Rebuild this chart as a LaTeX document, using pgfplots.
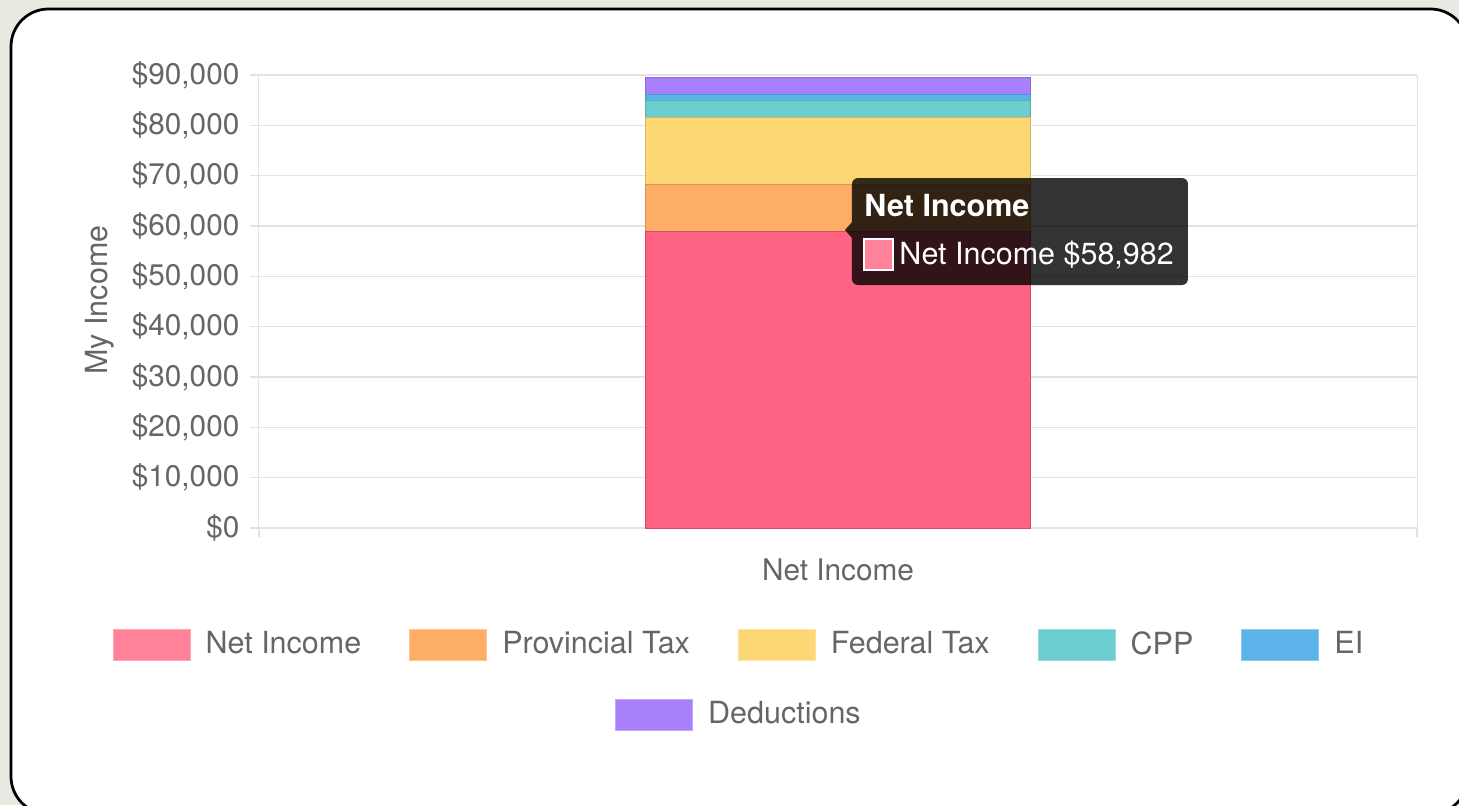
\documentclass[border=0pt]{standalone}
\usepackage{pgfplots}
\pgfplotsset{compat=1.18}
\usepackage{fontspec}
\setmainfont{TeX Gyre Heros}
\definecolor{txt}{HTML}{666666}
\definecolor{gridc}{HTML}{E3E3E3}
\definecolor{bgb}{HTML}{E9E9E1}
\definecolor{netB}{HTML}{FF6384}
\definecolor{netL}{HTML}{FF8299}
\definecolor{provB}{HTML}{FEAD64}
\definecolor{fedB}{HTML}{FED775}
\definecolor{cppB}{HTML}{6BCDCD}
\definecolor{eiB}{HTML}{5BB3EA}
\definecolor{dedB}{HTML}{A980FB}
\newcommand{\ff}{\fontsize{12.2}{14.6}\selectfont}
\begin{document}
\begin{tikzpicture}
\ff
\path[use as bounding box] (0,0) rectangle (583.6pt,-322pt);
\fill[bgb] (0,0) rectangle (583.6pt,-322pt);
\begin{scope}[x=0.4pt,y=-0.4pt]
\clip (0,0) rectangle (1459,805);
\draw[line width=1.1pt, fill=white, rounded corners=15pt] (11,9) rectangle (1468,814);
\end{scope}
\begin{axis}[
  at={(103.6pt,-211.2pt)}, anchor=south west,
  scale only axis, width=463.2pt, height=181.2pt,
  xmin=-0.5, xmax=0.5, ymin=0, ymax=90000,
  ybar stacked, bar width=154pt,
  axis line style={draw=gridc},
  ymajorgrids, grid style={draw=gridc, line width=0.5pt},
  scaled y ticks=false,
  ytick={0,10000,...,90000},
  yticklabels={{\$0},{\$10,000},{\$20,000},{\$30,000},{\$40,000},{\$50,000},{\$60,000},{\$70,000},{\$80,000},{\$90,000}},
  xtick={-0.5,0.5}, xticklabels={},
  extra x ticks={0}, extra x tick labels={Net Income},
  extra x tick style={grid=none, major tick length=0pt, xticklabel style={yshift=-8pt}},
  tick style={draw=gridc, line width=0.5pt},
  tick pos=left,
  tick align=outside, major tick length=3.6pt,
  ticklabel style={text=txt, font=\fontsize{11.9}{14.2}\selectfont},
  ylabel={My Income}, ylabel style={text=txt, at={(axis description cs:-0.1375,0.503)}, anchor=center, font=\ff},
  legend columns=5,
  legend style={draw=none, fill=none, at={(axis description cs:0.4136,-0.2583)}, anchor=center,
    nodes={inner sep=0pt, text=txt, font=\ff},
    /tikz/every odd column/.append style={column sep=6pt},
    /tikz/every even column/.append style={column sep=19.2pt}},
]
\addplot[fill=netB, draw=netB!80!black, line width=0.3pt,
  legend image code/.code={\draw[fill=netL, draw=netL!70!white, line width=0.4pt] (0pt,-6.2pt) rectangle (30.8pt,6.2pt);}]
  coordinates {(0,58982)};
\addplot[fill=provB, draw=provB!85!black, line width=0.3pt,
  legend image code/.code={\draw[fill=provB, draw=provB!70!white, line width=0.4pt] (0pt,-6.2pt) rectangle (30.8pt,6.2pt);}]
  coordinates {(0,9370)};
\addplot[fill=fedB, draw=fedB!85!black, line width=0.3pt,
  legend image code/.code={\draw[fill=fedB, draw=fedB!70!white, line width=0.4pt] (0pt,-6.2pt) rectangle (30.8pt,6.2pt);}]
  coordinates {(0,13250)};
\addplot[fill=cppB, draw=cppB!85!black, line width=0.3pt,
  legend image code/.code={\draw[fill=cppB, draw=cppB!70!white, line width=0.4pt] (0pt,-6.2pt) rectangle (30.8pt,6.2pt);}]
  coordinates {(0,3420)};
\addplot[fill=eiB, draw=eiB!85!black, line width=0.3pt,
  legend image code/.code={\draw[fill=eiB, draw=eiB!70!white, line width=0.4pt] (0pt,-6.2pt) rectangle (30.8pt,6.2pt);}]
  coordinates {(0,1180)};
\addplot[fill=dedB, draw=dedB!85!black, line width=0.3pt]
  coordinates {(0,3350)};
\legend{Net Income,Provincial Tax,Federal Tax,CPP,EI}
\end{axis}
\begin{axis}[
  at={(103.6pt,-211.2pt)}, anchor=south west,
  scale only axis, width=463.2pt, height=181.2pt,
  hide axis, xmin=0, xmax=1, ymin=0, ymax=1,
  legend style={draw=none, fill=none, at={(axis description cs:0.4136,-0.4128)}, anchor=center,
    nodes={inner sep=0pt, text=txt, font=\ff},
    /tikz/every odd column/.append style={column sep=6pt}},
]
\addlegendimage{legend image code/.code={\draw[fill=dedB, draw=dedB!70!white, line width=0.4pt] (0pt,-6.2pt) rectangle (30.8pt,6.2pt);}}
\legend{Deductions}
\end{axis}
\begin{scope}[x=0.4pt,y=-0.4pt]
\fill[black, opacity=0.8, rounded corners=2.4pt] (852,178) rectangle (1188,285);
\fill[black, opacity=0.8] (845,230) -- (852,222) -- (852,238) -- cycle;
\node[anchor=base west, text=white, inner sep=0pt, font=\ff\bfseries] at (864,216) {Net Income};
\draw[white, fill=netL, line width=0.8pt] (864,239) rectangle (893,270);
\node[anchor=base west, text=white, inner sep=0pt, font=\ff] at (899,264) {Net Income \$58,982};
\end{scope}
\end{tikzpicture}
\end{document}
